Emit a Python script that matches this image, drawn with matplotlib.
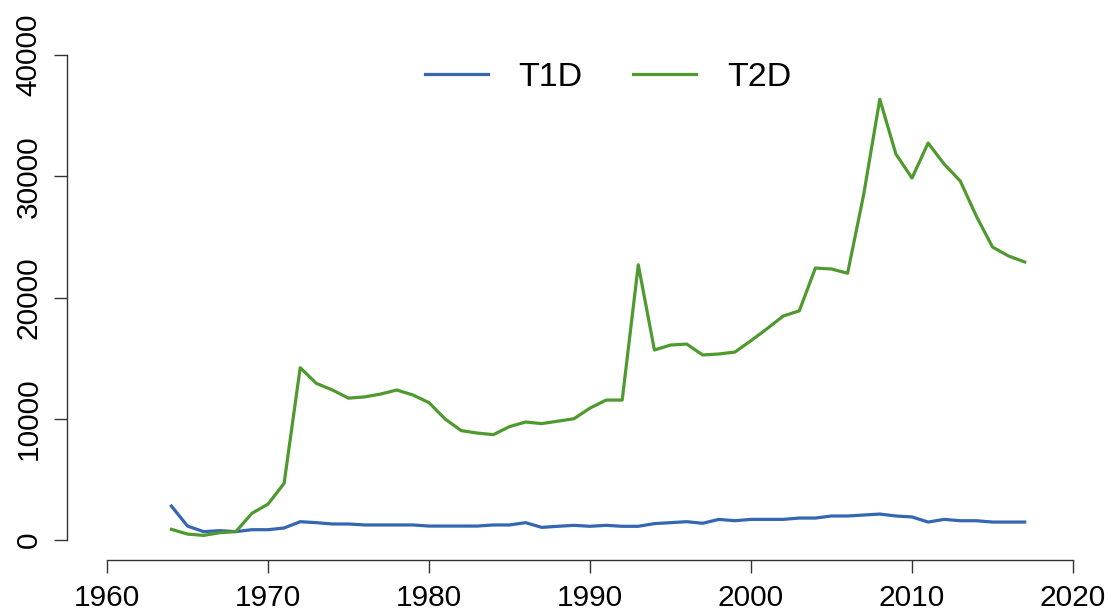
import numpy as np
import matplotlib
matplotlib.use("Agg")
import matplotlib.pyplot as plt

plt.rcParams['font.family'] = ['Liberation Sans', 'DejaVu Sans']

years = np.arange(1964, 2018)

t1d = [2800, 1150, 690, 770, 690, 850, 850, 990, 1510, 1430,
       1320, 1320, 1240, 1240, 1240, 1240, 1150, 1150, 1150, 1150,
       1240, 1240, 1430, 1040, 1130, 1210, 1130, 1210, 1130, 1130,
       1350, 1430, 1510, 1380, 1700, 1590, 1700, 1700, 1700, 1810,
       1810, 1980, 1980, 2060, 2140, 1980, 1900, 1480, 1700, 1590,
       1590, 1480, 1480, 1480]

t2d = [880, 490, 380, 600, 690, 2200, 2960, 4670, 14210, 12920,
       12370, 11700, 11800, 12040, 12370, 11960, 11330, 9980, 9020, 8820,
       8690, 9350, 9730, 9600, 9800, 10000, 10880, 11540, 11540, 22700,
       15670, 16080, 16160, 15260, 15340, 15500, 16440, 17430, 18470, 18900,
       22430, 22350, 22000, 28500, 36350, 31830, 29850, 32740, 31000, 29600,
       26700, 24160, 23420, 22930]

blue = '#3566B2'
green = '#4E9A2F'

fig = plt.figure(figsize=(11.12, 6.14), dpi=100)
ax = fig.add_axes([107/1112, 74/614, 966/1112, 485/614])

ax.plot(years, t1d, color=blue, lw=2.3, label='T1D')
ax.plot(years, t2d, color=green, lw=2.3, label='T2D')

ax.set_xlim(1960, 2020)
ax.set_ylim(0, 40000)
ax.set_xticks(np.arange(1960, 2021, 10))
ax.set_yticks(np.arange(0, 40001, 10000))

for s in ['top', 'right']:
    ax.spines[s].set_visible(False)
ax.spines['left'].set_position(('outward', 28.8))
ax.spines['bottom'].set_position(('outward', 14.4))
ax.spines['left'].set_bounds(0, 40000)
ax.spines['bottom'].set_bounds(1960, 2020)
for s in ['left', 'bottom']:
    ax.spines[s].set_color('#333333')
    ax.spines[s].set_linewidth(1.0)

ax.tick_params(axis='both', length=9.6, width=1.0, color='#333333',
               labelsize=21.5, direction='out')
ax.tick_params(axis='x', pad=8)
ax.tick_params(axis='y', pad=8)
for lab in ax.get_yticklabels():
    lab.set_rotation(90)
    lab.set_va('center')

ax.legend(loc='center', bbox_to_anchor=(608/1112, 1 - 77/614),
          bbox_transform=fig.transFigure, ncol=2, frameon=False,
          fontsize=24.5, handlelength=1.85, handletextpad=0.9,
          columnspacing=1.5)

fig.savefig('out.png', dpi=100)
